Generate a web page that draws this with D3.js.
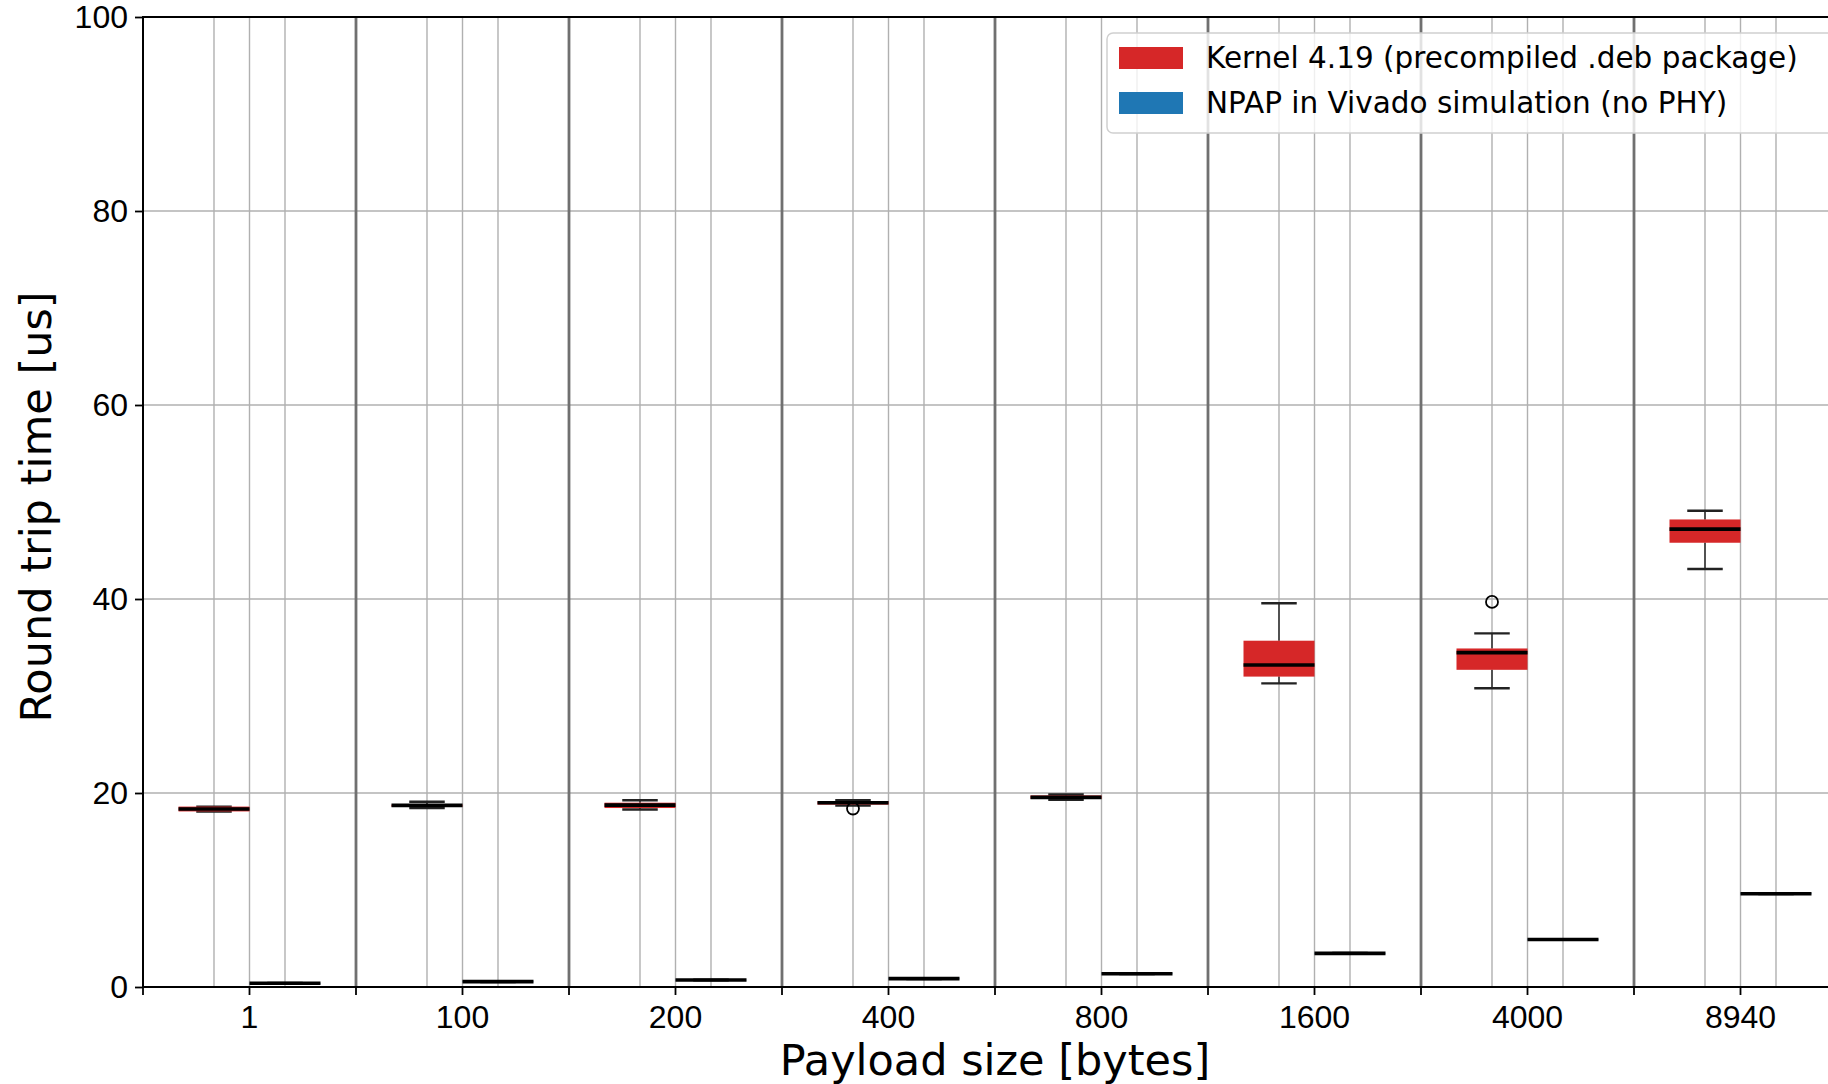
<!DOCTYPE html>
<html>
<head>
<meta charset="utf-8">
<script src="https://cdn.jsdelivr.net/npm/d3@7"></script>
<style>
  html, body { margin: 0; padding: 0; background: #fff; overflow: hidden; }
  svg { display: block; font-family: "DejaVu Sans", sans-serif; }
</style>
</head>
<body>
<div id="chart"></div>
<script>
// Payload sizes on the x axis
const payloadSizes = ["1", "100", "200", "400", "800", "1600", "4000", "8940"];
const yTicks = [0, 20, 40, 60, 80, 100];

// Kernel 4.19 box statistics (us)
const kernelLow = [18.1, 18.45, 18.3, 18.7, 19.3, 31.3, 30.8, 43.1];
const kernelQ1 = [18.1, 18.6, 18.45, 18.8, 19.4, 32.0, 32.7, 45.8];
const kernelMedian = [18.35, 18.72, 18.75, 19.0, 19.55, 33.2, 34.47, 47.2];
const kernelQ3 = [18.6, 18.8, 19.0, 19.15, 19.75, 35.7, 34.9, 48.2];
const kernelHigh = [18.6, 19.1, 19.25, 19.25, 19.85, 39.56, 36.46, 49.1];
const kernelOutliers = [[], [], [], [18.4], [], [], [39.7], []];

// NPAP in Vivado simulation box statistics (us)
const npapLow = [0.34, 0.51, 0.68, 0.82, 1.33, 3.43, 4.86, 9.58];
const npapQ1 = [0.36, 0.53, 0.7, 0.84, 1.35, 3.45, 4.88, 9.6];
const npapMedian = [0.38, 0.55, 0.72, 0.86, 1.37, 3.47, 4.9, 9.62];
const npapQ3 = [0.4, 0.57, 0.74, 0.88, 1.39, 3.49, 4.92, 9.64];
const npapHigh = [0.42, 0.59, 0.76, 0.9, 1.41, 3.51, 4.94, 9.66];
const npapOutliers = [[], [], [], [], [], [], [], []];

const seriesNames = ["Kernel 4.19 (precompiled .deb package)", "NPAP in Vivado simulation (no PHY)"];
const seriesColors = ["#d62728", "#1f77b4"];

const width = 1828;
const height = 1084;
const plot = { left: 143, right: 1847, top: 17, bottom: 987 };

const svg = d3
  .select("#chart")
  .append("svg")
  .attr("width", width)
  .attr("height", height);

const x = d3.scaleBand().domain(payloadSizes).range([plot.left, plot.right]);
const y = d3.scaleLinear().domain([0, 100]).range([plot.bottom, plot.top]);
const boxW = x.bandwidth() / 3;
const center = (d) => x(d) + x.bandwidth() / 2;

// Build series as rows for drawing
const makeRows = (low, q1, med, q3, high, outl, offset, color) =>
  payloadSizes.map((p, i) => ({
    cx: center(p) + offset,
    low: low[i], q1: q1[i], med: med[i], q3: q3[i], high: high[i],
    outliers: outl[i], color,
  }));

const kernelRows = makeRows(kernelLow, kernelQ1, kernelMedian, kernelQ3, kernelHigh, kernelOutliers, -boxW / 2, seriesColors[0]);
const npapRows = makeRows(npapLow, npapQ1, npapMedian, npapQ3, npapHigh, npapOutliers, boxW / 2, seriesColors[1]);
const allRows = kernelRows.concat(npapRows);

// Grid: horizontal lines
svg
  .append("g")
  .selectAll("line")
  .data(yTicks)
  .enter()
  .append("line")
  .attr("x1", plot.left)
  .attr("x2", plot.right)
  .attr("y1", (d) => y(d))
  .attr("y2", (d) => y(d))
  .attr("stroke", "#b0b0b0")
  .attr("stroke-width", 1.4);

// Grid: light lines at box positions and group centers
const innerGrid = [];
payloadSizes.forEach((p) => {
  innerGrid.push(center(p) - boxW / 2, center(p), center(p) + boxW / 2);
});
svg
  .append("g")
  .selectAll("line")
  .data(innerGrid)
  .enter()
  .append("line")
  .attr("x1", (d) => d)
  .attr("x2", (d) => d)
  .attr("y1", plot.top)
  .attr("y2", plot.bottom)
  .attr("stroke", "#b0b0b0")
  .attr("stroke-width", 1.4);

// Grid: darker lines at group boundaries
const boundaries = payloadSizes.slice(1).map((p) => x(p));
svg
  .append("g")
  .selectAll("line")
  .data(boundaries)
  .enter()
  .append("line")
  .attr("x1", (d) => d)
  .attr("x2", (d) => d)
  .attr("y1", plot.top)
  .attr("y2", plot.bottom)
  .attr("stroke", "#707070")
  .attr("stroke-width", 2.8);

// Boxes
const boxes = svg.append("g").selectAll("g").data(allRows).enter().append("g");

boxes
  .append("line")
  .attr("x1", (d) => d.cx)
  .attr("x2", (d) => d.cx)
  .attr("y1", (d) => y(d.low))
  .attr("y2", (d) => y(d.q1))
  .attr("stroke", "#444")
  .attr("stroke-width", 1.8);

boxes
  .append("line")
  .attr("x1", (d) => d.cx)
  .attr("x2", (d) => d.cx)
  .attr("y1", (d) => y(d.q3))
  .attr("y2", (d) => y(d.high))
  .attr("stroke", "#444")
  .attr("stroke-width", 1.8);

boxes
  .selectAll(".cap")
  .data((d) => [d.low, d.high].map((v) => ({ v, cx: d.cx })))
  .enter()
  .append("line")
  .attr("class", "cap")
  .attr("x1", (d) => d.cx - boxW / 4)
  .attr("x2", (d) => d.cx + boxW / 4)
  .attr("y1", (d) => y(d.v))
  .attr("y2", (d) => y(d.v))
  .attr("stroke", "#222")
  .attr("stroke-width", 2.4);

boxes
  .append("rect")
  .attr("x", (d) => d.cx - boxW / 2)
  .attr("width", boxW)
  .attr("y", (d) => y(d.q3))
  .attr("height", (d) => Math.max(0.5, y(d.q1) - y(d.q3)))
  .attr("fill", (d) => d.color);

boxes
  .append("line")
  .attr("x1", (d) => d.cx - boxW / 2)
  .attr("x2", (d) => d.cx + boxW / 2)
  .attr("y1", (d) => y(d.med))
  .attr("y2", (d) => y(d.med))
  .attr("stroke", "#000")
  .attr("stroke-width", 3.6);

boxes
  .selectAll("circle")
  .data((d) => d.outliers.map((v) => ({ v, cx: d.cx })))
  .enter()
  .append("circle")
  .attr("cx", (d) => d.cx)
  .attr("cy", (d) => y(d.v))
  .attr("r", 6)
  .attr("fill", "none")
  .attr("stroke", "#000")
  .attr("stroke-width", 1.8);

// Axes
const yAxis = svg
  .append("g")
  .attr("transform", `translate(${plot.left},0)`)
  .call(d3.axisLeft(y).tickValues(yTicks).tickSize(8).tickPadding(7));
yAxis.select(".domain").remove();
yAxis.selectAll("text").style("font-size", "32px").attr("fill", "#000");
yAxis.selectAll(".tick line").attr("stroke-width", 1.8);

const xAxis = svg
  .append("g")
  .attr("transform", `translate(0,${plot.bottom})`)
  .call(d3.axisBottom(x).tickSize(8).tickPadding(10));
xAxis.select(".domain").remove();
xAxis.selectAll("text").style("font-size", "32px").attr("fill", "#000");
xAxis.selectAll(".tick line").attr("stroke-width", 1.8);

// Minor ticks at group boundaries
svg
  .append("g")
  .selectAll("line")
  .data([plot.left].concat(boundaries))
  .enter()
  .append("line")
  .attr("x1", (d) => d)
  .attr("x2", (d) => d)
  .attr("y1", plot.bottom)
  .attr("y2", plot.bottom + 8)
  .attr("stroke", "#000")
  .attr("stroke-width", 1.8);

// Frame
svg
  .append("rect")
  .attr("x", plot.left)
  .attr("y", plot.top)
  .attr("width", plot.right - plot.left)
  .attr("height", plot.bottom - plot.top)
  .attr("fill", "none")
  .attr("stroke", "#000")
  .attr("stroke-width", 2);

// Legend
const legend = svg.append("g").attr("transform", "translate(1107,33)");
legend
  .append("rect")
  .attr("width", 728)
  .attr("height", 100)
  .attr("rx", 6)
  .attr("fill", "#fff")
  .attr("fill-opacity", 0.8)
  .attr("stroke", "#d0d0d0")
  .attr("stroke-width", 1.5);

legend
  .selectAll(".item")
  .data(seriesNames)
  .enter()
  .append("g")
  .attr("class", "item")
  .attr("transform", (d, i) => `translate(12,${14 + i * 45})`)
  .call((g) => {
    g.append("rect")
      .attr("width", 64)
      .attr("height", 22)
      .attr("fill", (d, i) => seriesColors[i]);
    g.append("text")
      .attr("x", 87)
      .attr("y", 21)
      .style("font-size", "29.5px")
      .text((d) => d);
  });

// Axis titles
svg
  .append("text")
  .attr("x", (plot.left + plot.right) / 2)
  .attr("y", 1075)
  .attr("text-anchor", "middle")
  .style("font-size", "43px")
  .text("Payload size [bytes]");

svg
  .append("text")
  .attr("transform", `translate(51,${(plot.top + plot.bottom) / 2 + 5}) rotate(-90)`)
  .attr("text-anchor", "middle")
  .style("font-size", "43px")
  .text("Round trip time [us]");
</script>
</body>
</html>
